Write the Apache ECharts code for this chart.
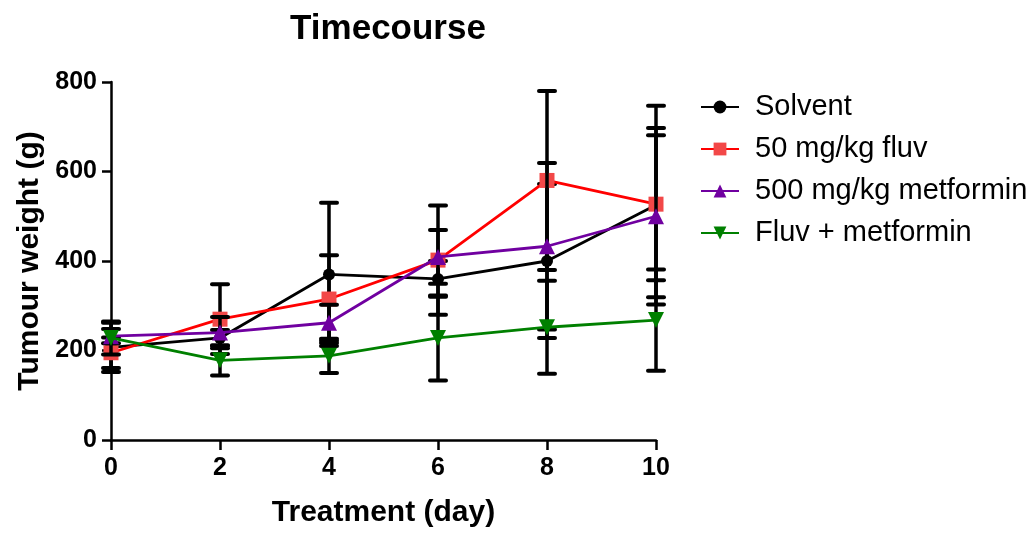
<!DOCTYPE html>
<html>
<head>
<meta charset="utf-8">
<script src="https://cdn.jsdelivr.net/npm/echarts@6/dist/echarts.min.js"></script>
<style>
  html, body { margin: 0; padding: 0; background: #fff; }
  #chart { width: 1036px; height: 533px; }
</style>
</head>
<body>
<div id="chart"></div>
<script>
// Treatment days (x axis)
const days = [0, 2, 4, 6, 8, 10];

// Mean tumour weight per group (g) and spread (SD) per day
const solventMean   = [207, 228, 370, 360, 400, 525];
const solventSd     = [55, 18, 160, 40, 172, 222];
const fluvMean      = [195, 270, 315, 402, 580, 527];
const fluvSd        = [34, 78, 98, 122, 200, 170];
const metforminMean = [232, 240, 262, 409, 433, 500];
const metforminSd   = [16, 35, 40, 60, 186, 181];
const comboMean     = [228, 178, 188, 228, 252, 268];
const comboSd       = [37, 34, 38, 95, 104, 113];

const groupNames = ['Solvent', '50 mg/kg fluv', '500 mg/kg metformin', 'Fluv + metformin'];
const yTicks = [0, 200, 400, 600, 800];
const xTicks = [0, 2, 4, 6, 8, 10];

const FONT = '"Liberation Sans", Arial, sans-serif';

const groups = [
  { name: groupNames[0], mean: solventMean,   sd: solventSd,   line: '#000000', fill: '#000000', symbol: 'circle',   size: 12, rotate: 0 },
  { name: groupNames[1], mean: fluvMean,      sd: fluvSd,      line: '#ff0000', fill: '#f24848', symbol: 'rect',     size: 15, rotate: 0 },
  { name: groupNames[2], mean: metforminMean, sd: metforminSd, line: '#7000a0', fill: '#7000a0', symbol: 'triangle', size: 16, rotate: 0 },
  { name: groupNames[3], mean: comboMean,     sd: comboSd,     line: '#008000', fill: '#008000', symbol: 'triangle', size: 16, rotate: 180 }
];

// Vertical error bar with caps at mean ± SD
function renderErrorBar(params, api) {
  const x = api.value(0);
  const lo = api.coord([x, api.value(1)]);
  const hi = api.coord([x, api.value(2)]);
  const half = 8;
  const style = { stroke: '#000', lineWidth: 3.5, lineCap: 'butt' };
  const capStyle = { stroke: '#000', lineWidth: 4, lineCap: 'round' };
  return {
    type: 'group',
    children: [
      { type: 'line', shape: { x1: hi[0], y1: hi[1], x2: lo[0], y2: lo[1] }, style: style },
      { type: 'line', shape: { x1: hi[0] - half, y1: hi[1], x2: hi[0] + half, y2: hi[1] }, style: capStyle },
      { type: 'line', shape: { x1: lo[0] - half, y1: lo[1], x2: lo[0] + half, y2: lo[1] }, style: capStyle }
    ]
  };
}

const series = [];
groups.forEach(function (g, gi) {
  series.push({
    type: 'custom',
    renderItem: renderErrorBar,
    data: days.map(function (d, i) { return [d, g.mean[i] - g.sd[i], g.mean[i] + g.sd[i]]; }),
    z: 2 + gi * 2,
    silent: true,
    clip: false
  });
  series.push({
    name: g.name,
    type: 'line',
    data: days.map(function (d, i) { return [d, g.mean[i]]; }),
    symbol: g.symbol,
    symbolSize: g.size,
    symbolRotate: g.rotate,
    showAllSymbol: true,
    lineStyle: { color: g.line, width: 2.8 },
    itemStyle: { color: g.fill, borderWidth: 0 },
    z: 3 + gi * 2,
    animation: false
  });
});

const chart = echarts.init(document.getElementById('chart'), null, { renderer: 'canvas' });
chart.setOption({
  animation: false,
  backgroundColor: '#ffffff',
  title: {
    text: 'Timecourse',
    left: 383,
    top: 7,
    textAlign: 'center',
    textStyle: { fontFamily: FONT, fontSize: 35, fontWeight: 'bold', color: '#000' }
  },
  legend: {
    data: groupNames,
    orient: 'vertical',
    left: 695,
    top: 86,
    itemWidth: 38,
    itemHeight: 16,
    itemGap: 10,
    textStyle: { fontFamily: FONT, fontSize: 29, color: '#000', lineHeight: 32, padding: [0, 0, 0, 11] }
  },
  grid: { left: 111, right: 380, top: 82, bottom: 88, containLabel: false },
  xAxis: {
    type: 'value',
    min: xTicks[0],
    max: xTicks[xTicks.length - 1],
    interval: 2,
    name: 'Treatment (day)',
    nameLocation: 'middle',
    nameGap: 58,
    nameTextStyle: { fontFamily: FONT, fontSize: 30, fontWeight: 'bold', color: '#000' },
    axisLine: { onZero: false, lineStyle: { color: '#000', width: 2.5 } },
    axisTick: { length: 10, lineStyle: { color: '#000', width: 2.5 } },
    axisLabel: { fontFamily: FONT, fontSize: 25, fontWeight: 'bold', color: '#000', margin: 16 },
    splitLine: { show: false }
  },
  yAxis: {
    type: 'value',
    min: yTicks[0],
    max: yTicks[yTicks.length - 1],
    interval: 200,
    name: 'Tumour weight (g)',
    nameLocation: 'middle',
    nameGap: 66,
    nameTextStyle: { fontFamily: FONT, fontSize: 30, fontWeight: 'bold', color: '#000' },
    axisLine: { show: true, onZero: false, lineStyle: { color: '#000', width: 2.5 } },
    axisTick: { show: true, length: 9, lineStyle: { color: '#000', width: 2.5 } },
    axisLabel: { fontFamily: FONT, fontSize: 25, fontWeight: 'bold', color: '#000', margin: 14 },
    splitLine: { show: false }
  },
  series: series
});
</script>
</body>
</html>
